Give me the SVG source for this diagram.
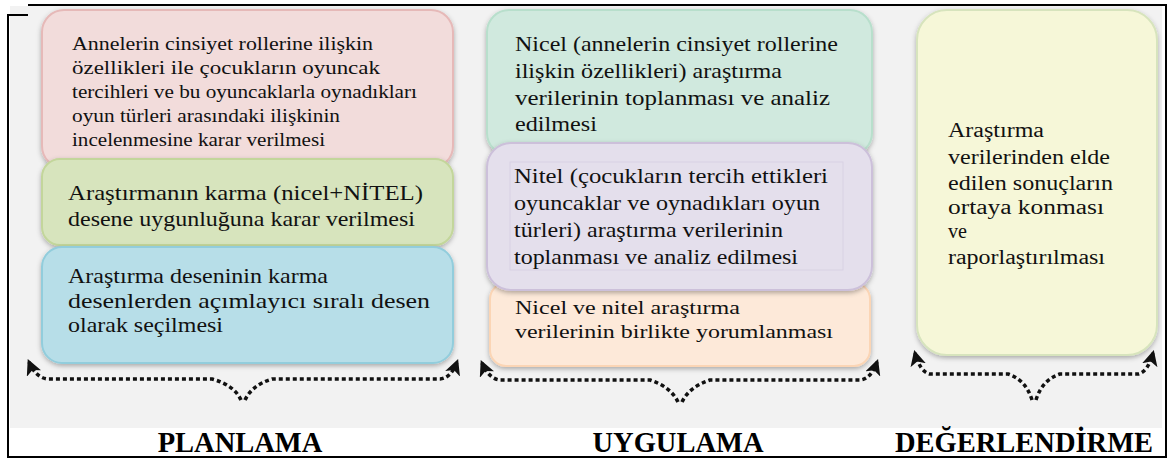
<svg xmlns="http://www.w3.org/2000/svg" width="1171" height="461" viewBox="0 0 1171 461">
<defs>
<filter id="sh" x="-10%" y="-10%" width="120%" height="125%">
<feDropShadow dx="0" dy="2" stdDeviation="2.5" flood-color="#000" flood-opacity="0.3"/>
</filter>
<filter id="bs" x="-5%" y="-20%" width="110%" height="160%">
<feDropShadow dx="0" dy="3" stdDeviation="2" flood-color="#000" flood-opacity="0.25"/>
</filter>
<marker id="ah" viewBox="0 0 10 10" refX="8" refY="5" markerWidth="4.5" markerHeight="4.5" orient="auto" markerUnits="strokeWidth">
<path d="M0,0 L10,5 L0,10 L2.5,5 Z" fill="#111"/>
</marker>
<style>
.t{font-family:"Liberation Serif","Times New Roman",serif;fill:#111}
.lab{font-family:"Liberation Serif","Times New Roman",serif;font-weight:bold;font-size:28.5px;fill:#000;text-anchor:middle}
.box{stroke-width:2;filter:url(#sh)}
.br{fill:none;stroke:#111;stroke-width:3.5;stroke-dasharray:4 3;marker-end:url(#ah)}
</style>
</defs>
<rect x="0" y="0" width="1171" height="461" fill="#fff"/>
<rect x="10" y="6" width="1152" height="422" fill="#f2f2f2"/>
<path d="M28,5 H1166 V457 H8 V15 H28" fill="none" stroke="#000" stroke-width="2"/>

<g id="plan-1">
<rect class="box" x="42" y="10" width="411" height="158" rx="22" fill="#f2dcdb" stroke="#e6b9b8"/>
<text class="t" font-size="18" x="72" y="50" textLength="301" lengthAdjust="spacingAndGlyphs">Annelerin cinsiyet rollerine ilişkin</text>
<text class="t" font-size="18" x="72" y="74" textLength="308" lengthAdjust="spacingAndGlyphs">özellikleri ile çocukların oyuncak</text>
<text class="t" font-size="18" x="72" y="98" textLength="345" lengthAdjust="spacingAndGlyphs">tercihleri ve bu oyuncaklarla oynadıkları</text>
<text class="t" font-size="18" x="72" y="122" textLength="268" lengthAdjust="spacingAndGlyphs">oyun türleri arasındaki ilişkinin</text>
<text class="t" font-size="18" x="72" y="146" textLength="253" lengthAdjust="spacingAndGlyphs">incelenmesine karar verilmesi</text>
</g>
<g id="plan-2">
<rect class="box" x="42" y="159" width="411" height="86" rx="18" fill="#d7e4bd" stroke="#c3d69b"/>
<text class="t" font-size="21" x="68" y="200" textLength="355" lengthAdjust="spacingAndGlyphs">Araştırmanın karma (nicel+NİTEL)</text>
<text class="t" font-size="21" x="68" y="226" textLength="347" lengthAdjust="spacingAndGlyphs">desene uygunluğuna karar verilmesi</text>
</g>
<g id="plan-3">
<rect class="box" x="42" y="247" width="411" height="116" rx="20" fill="#b7dee8" stroke="#92cddc"/>
<text class="t" font-size="21" x="68" y="283" textLength="260" lengthAdjust="spacingAndGlyphs">Araştırma deseninin karma</text>
<text class="t" font-size="21" x="68" y="308" textLength="362" lengthAdjust="spacingAndGlyphs">desenlerden açımlayıcı sıralı desen</text>
<text class="t" font-size="21" x="68" y="332" textLength="155" lengthAdjust="spacingAndGlyphs" fill="#333">olarak seçilmesi</text>
</g>

<g id="uyg-1">
<rect class="box" x="487" y="10" width="385" height="145" rx="22" fill="#d0e9de" stroke="#b8dfcc"/>
<text class="t" font-size="21" x="515" y="51" textLength="323" lengthAdjust="spacingAndGlyphs">Nicel (annelerin cinsiyet rollerine</text>
<text class="t" font-size="21" x="515" y="78" textLength="267" lengthAdjust="spacingAndGlyphs">ilişkin özellikleri) araştırma</text>
<text class="t" font-size="21" x="515" y="105" textLength="315" lengthAdjust="spacingAndGlyphs">verilerinin toplanması ve analiz</text>
<text class="t" font-size="21" x="515" y="131" textLength="82" lengthAdjust="spacingAndGlyphs">edilmesi</text>
</g>
<g id="uyg-3">
<rect class="box" x="490" y="283" width="380" height="83" rx="16" fill="#fde9d9" stroke="#fbd5b5"/>
<text class="t" font-size="19" x="515" y="314" textLength="225" lengthAdjust="spacingAndGlyphs">Nicel ve nitel araştırma</text>
<text class="t" font-size="19" x="515" y="338" textLength="318" lengthAdjust="spacingAndGlyphs">verilerinin birlikte yorumlanması</text>
</g>
<g id="uyg-2">
<rect class="box" x="487" y="143" width="385" height="147" rx="24" fill="#e4dfec" stroke="#ccc0da"/>
<rect x="510" y="162" width="333" height="108" fill="none" stroke="#d8d2e3" stroke-width="1"/>
<text class="t" font-size="21" x="514" y="183" textLength="314" lengthAdjust="spacingAndGlyphs">Nitel (çocukların tercih ettikleri</text>
<text class="t" font-size="21" x="514" y="210" textLength="306" lengthAdjust="spacingAndGlyphs">oyuncaklar ve oynadıkları oyun</text>
<text class="t" font-size="21" x="514" y="237" textLength="269" lengthAdjust="spacingAndGlyphs">türleri) araştırma verilerinin</text>
<text class="t" font-size="21" x="514" y="264" textLength="284" lengthAdjust="spacingAndGlyphs">toplanması ve analiz edilmesi</text>
</g>

<g id="deg-1">
<rect class="box" x="917" y="10" width="240" height="345" rx="30" fill="#f6f7d8" stroke="#d7e4bd"/>
<text class="t" font-size="20" x="948" y="137" textLength="96" lengthAdjust="spacingAndGlyphs">Araştırma</text>
<text class="t" font-size="20" x="948" y="164" textLength="162" lengthAdjust="spacingAndGlyphs">verilerinden elde</text>
<text class="t" font-size="20" x="948" y="190" textLength="165" lengthAdjust="spacingAndGlyphs">edilen sonuçların</text>
<text class="t" font-size="20" x="948" y="214" textLength="156" lengthAdjust="spacingAndGlyphs">ortaya konması</text>
<text class="t" font-size="20" x="948" y="238" textLength="19" lengthAdjust="spacingAndGlyphs">ve</text>
<text class="t" font-size="20" x="948" y="264" textLength="157" lengthAdjust="spacingAndGlyphs">raporlaştırılması</text>
</g>

<g id="connectors">
<path class="br" d="M241,400 Q234,385 212,379 L48,379 Q36,378 29,362"/>
<path class="br" d="M245,400 Q252,385 272,379 L440,379 Q451,378 457,362"/>
<path class="br" d="M678,402 Q671,387 650,380 L500,380 Q489,379 482,363"/>
<path class="br" d="M682,402 Q689,387 710,380 L860,380 Q871,379 877,362"/>
<path class="br" d="M1032,400 Q1026,380 1008,374 L930,374 Q920,372 915,353"/>
<path class="br" d="M1036,400 Q1042,380 1060,374 L1138,374 Q1148,372 1153,353"/>
</g>

<g id="labels">
<text class="lab" x="240" y="452">PLANLAMA</text>
<text class="lab" x="678" y="452">UYGULAMA</text>
<text class="lab" x="1024" y="452">DEĞERLENDİRME</text>
</g>
</svg>
